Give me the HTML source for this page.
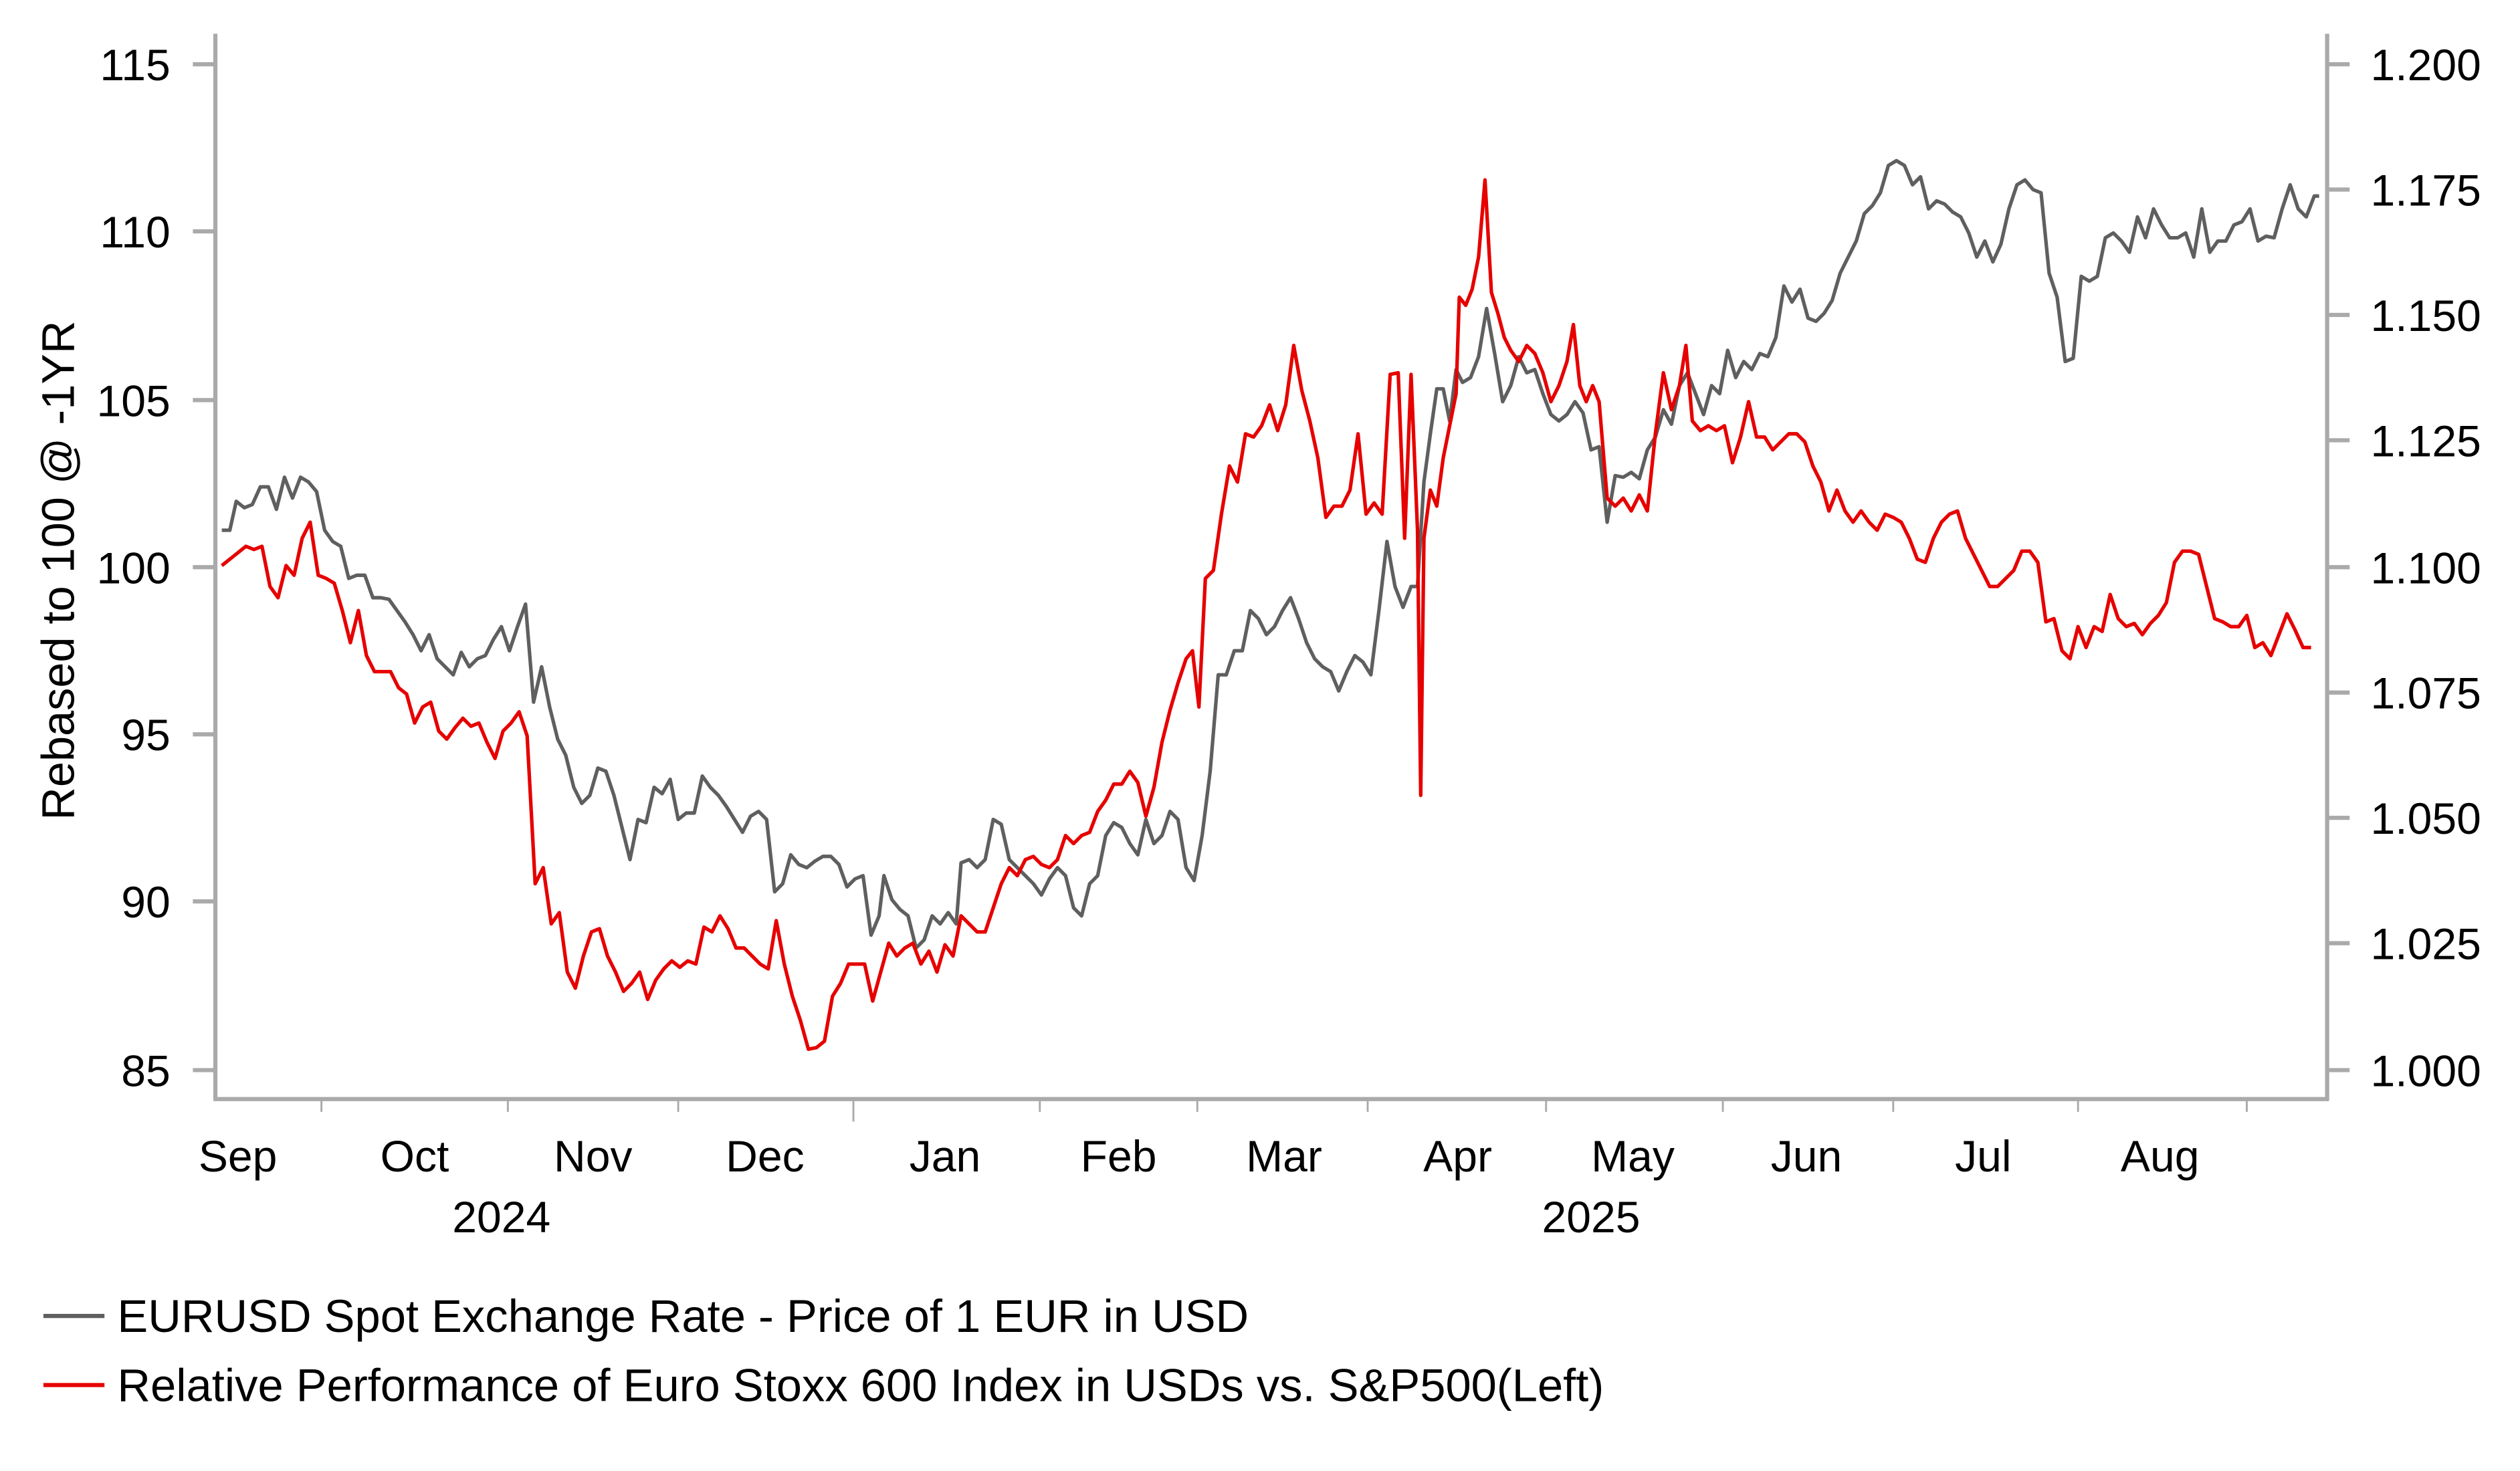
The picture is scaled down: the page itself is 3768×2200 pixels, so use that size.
<!DOCTYPE html>
<html><head><meta charset="utf-8"><style>html,body{margin:0;padding:0;background:#fff}svg{display:block}</style></head>
<body>
<svg width="3768" height="2200" viewBox="0 0 1568 915.5" preserveAspectRatio="none" xmlns="http://www.w3.org/2000/svg" font-family="Liberation Sans, Arial, sans-serif">
<rect width="1568" height="915.5" fill="#fff"/>
<g stroke="#aaa" stroke-width="2.6" fill="none">
<line x1="134" y1="21" x2="134" y2="685"/>
<line x1="1448" y1="21" x2="1448" y2="685"/>
<line x1="133" y1="684" x2="1449" y2="684"/>
<path d="M120 40H134M120 144H134M120 249H134M120 353H134M120 457H134M120 561H134M120 666H134"/>
<path d="M1448 40H1462M1448 118H1462M1448 196H1462M1448 274H1462M1448 353H1462M1448 431H1462M1448 509H1462M1448 587H1462M1448 666H1462"/>
</g>
<g stroke="#aaa" stroke-width="1.2">
<path d="M200 684V692M316 684V692M422 684V692M647 684V692M745 684V692M851 684V692M962 684V692M1072 684V692M1178 684V692M1293 684V692M1398 684V692"/>
<path d="M531 684V698"/>
</g>
<g font-size="27.5" fill="#000" text-anchor="end">
<text x="106" y="50">115</text><text x="106" y="154">110</text><text x="106" y="259">105</text><text x="106" y="363">100</text><text x="106" y="467">95</text><text x="106" y="571">90</text><text x="106" y="676">85</text>
</g>
<g font-size="27.5" fill="#000" text-anchor="start">
<text x="1475" y="50">1.200</text><text x="1475" y="128">1.175</text><text x="1475" y="206">1.150</text><text x="1475" y="284">1.125</text><text x="1475" y="363">1.100</text><text x="1475" y="441">1.075</text><text x="1475" y="519">1.050</text><text x="1475" y="597">1.025</text><text x="1475" y="676">1.000</text>
</g>
<g font-size="27.5" fill="#000" text-anchor="middle">
<text x="148" y="729">Sep</text><text x="258" y="729">Oct</text><text x="369" y="729">Nov</text><text x="476" y="729">Dec</text><text x="588" y="729">Jan</text><text x="696" y="729">Feb</text><text x="799" y="729">Mar</text><text x="907" y="729">Apr</text><text x="1016" y="729">May</text><text x="1124" y="729">Jun</text><text x="1234" y="729">Jul</text><text x="1344" y="729">Aug</text>
<text x="312" y="767">2024</text><text x="990" y="767">2025</text>
</g>
<text transform="translate(46,355) rotate(-90)" font-size="28.5" text-anchor="middle" fill="#000">Rebased to 100 @ -1YR</text>
<polyline fill="none" stroke="#5f5f5f" stroke-width="2.2" stroke-linejoin="round" points="138,330 143,330 147,312 152,316 157,314 162,303 167,303 172,317 177,297 182,310 187,297 192,300 197,306 202,330 207,337 212,340 217,360 222,358 227,358 232,372 237,372 242,373 247,380 252,387 257,395 262,405 267,395 272,410 277,415 282,420 287,406 292,415 297,410 302,408 307,398 312,390 317,405 322,390 327,376 332,437 337,415 342,440 347,460 352,470 357,490 362,500 367,495 372,478 377,480 382,495 387,515 392,535 397,510 402,512 407,490 412,494 417,485 422,510 427,506 432,506 437,483 442,490 447,495 452,502 457,510 462,518 467,508 472,505 477,510 482,555 487,550 492,532 497,538 502,540 507,536 512,533 517,533 522,538 527,552 532,547 537,545 542,582 547,570 550,545 555,560 560,566 565,570 570,590 575,585 580,570 585,575 590,568 595,575 598,537 603,535 608,540 613,535 618,510 623,513 628,535 633,540 638,545 643,550 648,557 653,547 658,540 663,545 668,565 673,570 678,550 683,545 688,520 693,512 698,515 703,525 708,532 713,510 718,525 723,520 728,505 733,510 738,540 743,548 748,520 753,480 758,420 763,420 768,405 773,405 778,380 783,385 788,395 793,390 798,380 803,372 808,385 813,400 818,410 823,415 828,418 833,430 838,418 843,408 848,412 853,420 858,380 863,337 868,365 873,378 878,365 882,365 886,300 890,270 894,242 898,242 902,262 906,230 910,238 915,235 920,222 925,192 930,220 935,250 940,240 945,222 950,232 955,230 960,245 965,258 970,262 975,258 980,250 985,257 990,280 995,278 1000,325 1005,296 1010,297 1015,294 1020,298 1025,280 1030,272 1035,255 1040,264 1045,240 1050,232 1055,245 1060,258 1065,240 1070,245 1075,218 1080,235 1085,225 1090,230 1095,220 1100,222 1105,210 1110,178 1115,188 1120,180 1125,198 1130,200 1135,195 1140,187 1145,170 1150,160 1155,150 1160,133 1165,128 1170,120 1175,103 1180,100 1185,103 1190,115 1195,110 1200,130 1205,125 1210,127 1215,132 1220,135 1225,145 1230,160 1235,150 1240,163 1245,152 1250,130 1255,115 1260,112 1265,118 1270,120 1275,170 1280,185 1285,225 1290,223 1295,172 1300,175 1305,172 1310,148 1315,145 1320,150 1325,157 1330,135 1335,148 1340,130 1345,140 1350,148 1355,148 1360,145 1365,160 1370,130 1375,157 1380,150 1385,150 1390,140 1395,138 1400,130 1405,150 1410,147 1415,148 1420,130 1425,115 1430,130 1435,135 1440,122 1443,122"/>
<polyline fill="none" stroke="#e60000" stroke-width="2.2" stroke-linejoin="round" points="138,352 143,348 148,344 153,340 158,342 163,340 168,365 173,372 178,352 183,358 188,335 193,325 198,358 203,360 208,363 213,380 218,400 223,380 228,408 233,418 238,418 243,418 248,428 253,432 258,450 263,440 268,437 273,455 278,460 283,453 288,447 293,452 298,450 303,462 308,472 313,455 318,450 323,443 328,458 333,550 338,540 343,575 348,568 353,605 358,615 363,595 368,580 373,578 378,595 383,605 388,617 393,612 398,605 403,622 408,610 413,603 418,598 423,602 428,598 433,600 438,577 443,580 448,570 453,578 458,590 463,590 468,595 473,600 478,603 483,573 488,600 493,620 498,635 503,653 508,652 513,648 518,620 523,612 528,600 533,600 538,600 543,623 548,605 553,587 558,595 563,590 568,587 573,600 578,592 583,605 588,588 593,595 598,570 603,575 608,580 613,580 618,565 623,550 628,540 633,545 638,535 643,533 648,538 653,540 658,535 663,520 668,525 673,520 678,518 683,505 688,498 693,488 698,488 703,480 708,487 713,508 718,490 723,462 728,442 733,425 738,410 742,405 746,440 750,360 755,355 760,320 765,290 770,300 775,270 780,272 785,265 790,252 795,268 800,252 805,215 810,243 815,262 820,285 825,322 830,315 835,315 840,305 845,270 850,320 855,313 860,320 865,233 870,232 874,335 878,233 882,330 884,495 886,335 890,305 894,315 898,285 902,265 906,245 908,185 912,190 916,180 920,160 924,112 928,182 932,195 936,210 940,218 945,225 950,215 955,220 960,232 965,250 970,240 975,225 979,202 983,240 987,250 991,240 995,250 1000,310 1005,315 1010,310 1015,318 1020,308 1025,318 1030,270 1035,232 1040,255 1045,240 1049,215 1053,262 1058,268 1063,265 1068,268 1073,265 1078,288 1083,272 1088,250 1093,272 1098,272 1103,280 1108,275 1113,270 1118,270 1123,275 1128,290 1133,300 1138,318 1143,305 1148,318 1153,325 1158,318 1163,325 1168,330 1173,320 1178,322 1183,325 1188,335 1193,348 1198,350 1203,335 1208,325 1213,320 1218,318 1223,335 1228,345 1233,355 1238,365 1243,365 1248,360 1253,355 1258,343 1263,343 1268,350 1273,387 1278,385 1283,405 1288,410 1293,390 1298,403 1303,390 1308,393 1313,370 1318,385 1323,390 1328,388 1333,395 1338,388 1343,383 1348,375 1353,350 1358,343 1363,343 1368,345 1373,365 1378,385 1383,387 1388,390 1393,390 1398,383 1403,403 1408,400 1413,408 1418,395 1423,382 1428,392 1433,403 1438,403"/>
<line x1="27" y1="819" x2="65" y2="819" stroke="#5f5f5f" stroke-width="2.6"/>
<line x1="27" y1="862" x2="65" y2="862" stroke="#e60000" stroke-width="2.6"/>
<g font-size="28.5" fill="#000">
<text x="73" y="829" textLength="704" lengthAdjust="spacingAndGlyphs">EURUSD Spot Exchange Rate - Price of 1 EUR in USD</text>
<text x="73" y="872" textLength="925" lengthAdjust="spacingAndGlyphs">Relative Performance of Euro Stoxx 600 Index in USDs vs. S&amp;P500(Left)</text>
</g>
</svg>
</body></html>
